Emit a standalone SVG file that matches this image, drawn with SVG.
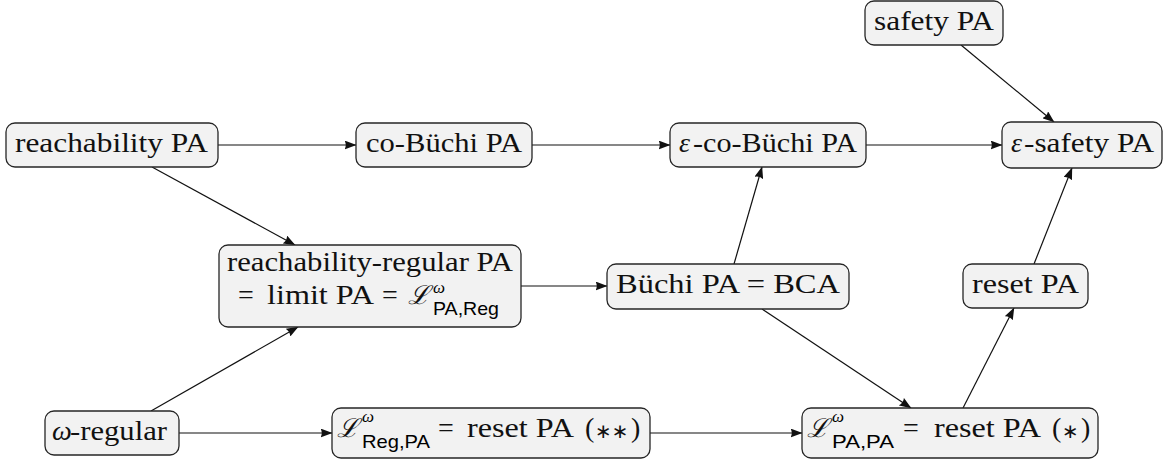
<svg xmlns="http://www.w3.org/2000/svg" width="1167" height="462" viewBox="0 0 1167 462">
<style>
.box{fill:#f2f2f2;stroke:#262626;stroke-width:1.3}
.t{font-family:'Liberation Serif','Times New Roman',Times,serif;font-size:28px;fill:#111}
.it{font-style:italic}
.sc{font-family:'DejaVu Serif','Liberation Serif',serif;font-style:italic;font-size:26px}
.sup{font-family:'Liberation Serif','Times New Roman',serif;font-style:italic;font-size:17px}
.sub{font-family:'Liberation Sans',Arial,sans-serif;font-size:19px}
.ast{font-family:'DejaVu Sans',sans-serif;font-size:20px}
.e{stroke:#111;stroke-width:1.2;fill:none;marker-end:url(#arr)}
</style>
<defs>
<marker id="arr" viewBox="0 0 12 9" refX="11.5" refY="4.5" markerWidth="12" markerHeight="9" markerUnits="userSpaceOnUse" orient="auto">
<path d="M0,0 L12,4.5 L0,9 Q2.5,4.5 0,0 z" fill="#111"/>
</marker>
</defs>
<g id="connectors">
<line class="e" x1="218" y1="145" x2="356" y2="145"/>
<line class="e" x1="532" y1="145" x2="670" y2="145"/>
<line class="e" x1="866" y1="145" x2="1002" y2="145"/>
<line class="e" x1="961" y1="45" x2="1054" y2="122"/>
<line class="e" x1="152" y1="167" x2="295" y2="245"/>
<line class="e" x1="151" y1="411" x2="298" y2="327"/>
<line class="e" x1="521" y1="286" x2="607" y2="286"/>
<line class="e" x1="734" y1="264" x2="762" y2="167"/>
<line class="e" x1="762" y1="309" x2="911" y2="408"/>
<line class="e" x1="963" y1="408" x2="1014" y2="308"/>
<line class="e" x1="1034" y1="264" x2="1072" y2="168"/>
<line class="e" x1="179" y1="433" x2="332" y2="433"/>
<line class="e" x1="650" y1="433" x2="802" y2="433"/>
</g>
<g id="safety">
<rect class="box" x="865" y="1" width="138" height="44" rx="9"/>
<text class="t" x="874" y="30" textLength="120" lengthAdjust="spacingAndGlyphs">safety PA</text>
</g>
<g id="reach">
<rect class="box" x="6" y="123" width="212" height="44" rx="9"/>
<text class="t" x="15" y="152" textLength="193" lengthAdjust="spacingAndGlyphs">reachability PA</text>
</g>
<g id="cobuchi">
<rect class="box" x="356" y="123" width="176" height="44" rx="9"/>
<text class="t" x="366" y="152" textLength="156" lengthAdjust="spacingAndGlyphs">co-Büchi PA</text>
</g>
<g id="epscobuchi">
<rect class="box" x="670" y="123" width="196" height="44" rx="9"/>
<text class="t" y="152"><tspan class="it" x="679">ε</tspan><tspan x="693" textLength="164" lengthAdjust="spacingAndGlyphs">-co-Büchi PA</tspan></text>
</g>
<g id="epssafety">
<rect class="box" x="1002" y="122" width="160" height="46" rx="9"/>
<text class="t" y="152"><tspan class="it" x="1011">ε</tspan><tspan x="1024" textLength="130" lengthAdjust="spacingAndGlyphs">-safety PA</tspan></text>
</g>
<g id="reachreg">
<rect class="box" x="219" y="245" width="302" height="82" rx="9"/>
<text class="t" x="227" y="271" textLength="286" lengthAdjust="spacingAndGlyphs">reachability-regular PA</text>
<text class="t" y="304"><tspan x="238">=</tspan><tspan x="267" textLength="107" lengthAdjust="spacingAndGlyphs">limit PA</tspan><tspan x="382">=</tspan><tspan class="sc" x="408">ℒ</tspan></text>
<text class="sup" x="433" y="293">ω</text>
<text class="sub" x="433" y="315" textLength="66" lengthAdjust="spacingAndGlyphs">PA,Reg</text>
</g>
<g id="buchi">
<rect class="box" x="607" y="264" width="242" height="45" rx="9"/>
<text class="t" x="616" y="293" textLength="224" lengthAdjust="spacingAndGlyphs">Büchi PA = BCA</text>
</g>
<g id="reset">
<rect class="box" x="963" y="264" width="125" height="44" rx="9"/>
<text class="t" x="972" y="293" textLength="107" lengthAdjust="spacingAndGlyphs">reset PA</text>
</g>
<g id="omega">
<rect class="box" x="45" y="411" width="134" height="44" rx="9"/>
<text class="t" y="440"><tspan class="it" x="52">ω</tspan><tspan x="70" textLength="97" lengthAdjust="spacingAndGlyphs">-regular</tspan></text>
</g>
<g id="lregpa">
<rect class="box" x="332" y="408" width="318" height="50" rx="9"/>
<text class="t" y="437"><tspan class="sc" x="337">ℒ</tspan><tspan x="438">=</tspan><tspan x="467" textLength="107" lengthAdjust="spacingAndGlyphs">reset PA</tspan><tspan x="585">(</tspan><tspan class="ast" x="595" y="438">∗∗</tspan><tspan x="631" y="437">)</tspan></text>
<text class="sup" x="362" y="422">ω</text>
<text class="sub" x="362" y="448" textLength="68" lengthAdjust="spacingAndGlyphs">Reg,PA</text>
</g>
<g id="lpapa">
<rect class="box" x="802" y="408" width="296" height="50" rx="9"/>
<text class="t" y="437"><tspan class="sc" x="807">ℒ</tspan><tspan x="903">=</tspan><tspan x="934" textLength="107" lengthAdjust="spacingAndGlyphs">reset PA</tspan><tspan x="1052">(</tspan><tspan class="ast" x="1062" y="438">∗</tspan><tspan x="1081" y="437">)</tspan></text>
<text class="sup" x="832" y="422">ω</text>
<text class="sub" x="832" y="448" textLength="62" lengthAdjust="spacingAndGlyphs">PA,PA</text>
</g>
</svg>
